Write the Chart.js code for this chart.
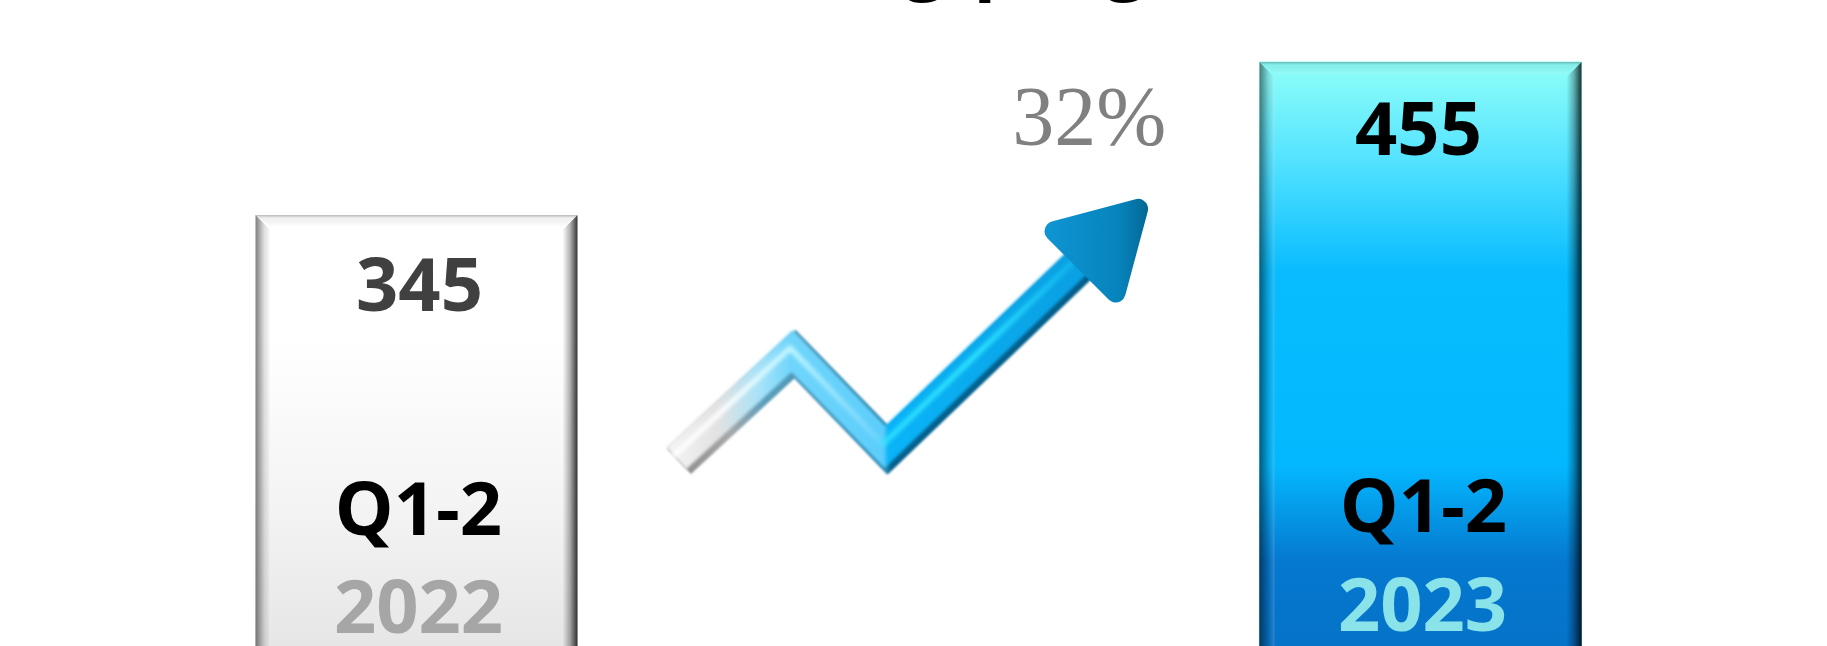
<!DOCTYPE html>
<html>
<head>
<meta charset="utf-8">
<script src="https://cdn.jsdelivr.net/npm/chart.js@4"></script>
<style>
html, body { margin: 0; height: 646px; overflow: hidden; background: #fff; }
#grafico { position: absolute; left: 0; top: -80px; }
</style>
</head>
<body>
<canvas id="grafico" width="1827" height="775"></canvas>
<script>
const categorias = ['Q1-2 2022', '', 'Q1-2 2023']
const valores = [345, null, 455]
const periodos = ['Q1-2', '', 'Q1-2']
const anios = ['2022', '', '2023']
const crecimiento = '32%'
// the title is cut off by the top of the picture, only these descenders show
const restosTitulo = ['g', 'p', 'g']

// zigzag arrow, x in category units, y in the same units as the bars
const flechaX = [0.523, 0.754, 0.939, 1.367]
const flechaY = [168, 245, 176, 324]

const datosFlecha = flechaX.map((x, i) => ({ x: x, y: flechaY[i] }))

function degradadoBarra(ctx, paradas) {
    let chart = ctx.chart
    let base = chart.scales.y.getPixelForValue(0)
    let tope = chart.scales.y.getPixelForValue(valores[ctx.dataIndex])
    let g = chart.ctx.createLinearGradient(0, tope, 0, base)
    paradas.forEach(p => g.addColorStop(p[0], p[1]))
    return g
}

function degradadoFlecha(ctx, colores) {
    let chart = ctx.chart
    if (!chart.chartArea) return colores[0][1]
    let esc = chart.scales.xFlecha
    let g = chart.ctx.createLinearGradient(esc.getPixelForValue(flechaX[0]), 0, esc.getPixelForValue(flechaX[3]), 0)
    colores.forEach(p => g.addColorStop(p[0], p[1]))
    return g
}

function degradadoPunta(ctx) {
    let chart = ctx.chart
    if (!chart.chartArea) return '#0583bd'
    let cx = chart.scales.xFlecha.getPixelForValue(flechaX[3])
    let g = chart.ctx.createLinearGradient(cx - 60, 0, cx + 50, 0)
    g.addColorStop(0, '#0f96d4')
    g.addColorStop(0.7, '#0683bb')
    g.addColorStop(1, '#04648f')
    return g
}

const coloresBorde = [[0, '#8c8c8c'], [0.12, '#a8a8a8'], [0.2, '#5f9fbc'], [0.49, '#2a86ad'], [0.5, '#04628f'], [1, '#035f8c']]
const coloresCuerpo = [[0, '#f2f2f2'], [0.1, '#e2e2e2'], [0.2, '#a5e2f8'], [0.27, '#70d5fb'], [0.49, '#5ccdfb'], [0.5, '#0ab4f8'], [1, '#0a9ee0']]
const coloresBrillo = [[0, '#ffffff'], [0.12, '#ffffff'], [0.27, '#c8f8ff'], [0.48, '#70d5fb'], [0.5, '#30e0ff'], [0.72, '#2fe6ff'], [1, '#0aa8ea']]

const desplazar = {
    id: 'desplazar',
    beforeDatasetDraw(chart, args) {
        let ds = chart.data.datasets[args.index]
        chart.ctx.save()
        chart.ctx.lineJoin = 'round'
        if (ds.desplazo) chart.ctx.translate(ds.desplazo[0], ds.desplazo[1])
        if (ds.suave) chart.ctx.filter = 'blur(' + ds.suave + 'px)'
    },
    afterDatasetDraw(chart) {
        chart.ctx.restore()
    }
}

const biselYTextos = {
    id: 'biselYTextos',
    afterDatasetsDraw(chart) {
        let ctx = chart.ctx
        let barras = chart.getDatasetMeta(4).data
        const b = 15
        ctx.save()
        barras.forEach((barra, i) => {
            if (valores[i] === null) return
            let izq = barra.x - barra.width / 2
            let der = barra.x + barra.width / 2
            let arriba = barra.y
            let abajo = barra.base

            let g = ctx.createLinearGradient(izq, 0, izq + b, 0)
            g.addColorStop(0, 'rgba(0,0,0,0.5)')
            g.addColorStop(0.6, 'rgba(0,0,0,0.12)')
            g.addColorStop(1, 'rgba(255,255,255,0.15)')
            ctx.fillStyle = g
            ctx.beginPath()
            ctx.moveTo(izq, arriba)
            ctx.lineTo(izq + b, arriba + b)
            ctx.lineTo(izq + b, abajo)
            ctx.lineTo(izq, abajo)
            ctx.fill()

            g = ctx.createLinearGradient(der - b, 0, der, 0)
            g.addColorStop(0, 'rgba(0,0,0,0)')
            g.addColorStop(0.5, 'rgba(0,0,0,0.3)')
            g.addColorStop(1, 'rgba(0,0,0,0.8)')
            ctx.fillStyle = g
            ctx.beginPath()
            ctx.moveTo(der, arriba)
            ctx.lineTo(der - b, arriba + b)
            ctx.lineTo(der - b, abajo)
            ctx.lineTo(der, abajo)
            ctx.fill()

            g = ctx.createLinearGradient(0, arriba, 0, arriba + 12)
            g.addColorStop(0, 'rgba(0,0,0,0.28)')
            g.addColorStop(0.25, 'rgba(0,0,0,0.06)')
            g.addColorStop(1, 'rgba(255,255,255,0.1)')
            ctx.fillStyle = g
            ctx.beginPath()
            ctx.moveTo(izq, arriba)
            ctx.lineTo(der, arriba)
            ctx.lineTo(der - b, arriba + 12)
            ctx.lineTo(izq + b, arriba + 12)
            ctx.fill()

            ctx.textAlign = 'center'
            ctx.textBaseline = 'alphabetic'
            ctx.font = 'bold 74px "Open Sans"'
            ctx.fillStyle = i === 0 ? '#404040' : '#000000'
            ctx.fillText(String(valores[i]), barra.x + (i === 0 ? 3 : -2), arriba + (i === 0 ? 96 : 93))
            ctx.fillStyle = '#000000'
            ctx.fillText(periodos[i], barra.x + (i === 0 ? 2 : 3), arriba + (i === 0 ? 320 : 470))
            ctx.fillStyle = i === 0 ? '#a6a6a6' : '#8be3ea'
            ctx.fillText(anios[i], barra.x + 2, arriba + (i === 0 ? 418 : 569))
        })

        ctx.font = '84px "Liberation Serif"'
        ctx.fillStyle = '#808080'
        ctx.fillText(crecimiento, chart.scales.xFlecha.getPixelForValue(1.34), chart.scales.y.getPixelForValue(395))

        ctx.font = 'bold 74px "Open Sans"'
        ctx.fillStyle = '#000000'
        ctx.fillText(restosTitulo[0], 925, 65)
        ctx.fillText(restosTitulo[1], 997, 65)
        ctx.fillText(restosTitulo[2], 1126, 65)
        ctx.restore()
    }
}

new Chart(document.getElementById('grafico'), {
    data: {
        labels: categorias,
        datasets: [
            {
                type: 'line',
                order: 1,
                xAxisID: 'xFlecha',
                data: datosFlecha,
                borderWidth: 5,
                borderCapStyle: 'round',
                borderColor: ctx => degradadoFlecha(ctx, coloresBrillo),
                desplazo: [-5, -6],
                suave: 2,
                pointRadius: 0,
                clip: false
            },
            {
                type: 'line',
                order: 0,
                xAxisID: 'xFlecha',
                data: datosFlecha,
                borderWidth: 0,
                borderColor: 'rgba(0,0,0,0)',
                pointStyle: 'triangle',
                pointRotation: 45,
                pointRadius: [0, 0, 0, 50],
                pointBorderWidth: 20,
                pointBackgroundColor: degradadoPunta,
                pointBorderColor: degradadoPunta,
                suave: 0.6,
                clip: false
            },
            {
                type: 'line',
                order: 2,
                xAxisID: 'xFlecha',
                data: datosFlecha,
                borderWidth: 30,
                borderColor: ctx => degradadoFlecha(ctx, coloresCuerpo),
                desplazo: [-3, -3],
                suave: 1.5,
                pointRadius: 0,
                clip: false
            },
            {
                type: 'line',
                order: 3,
                xAxisID: 'xFlecha',
                data: datosFlecha,
                borderWidth: 35,
                borderColor: ctx => degradadoFlecha(ctx, coloresBorde),
                suave: 1,
                pointRadius: 0,
                clip: false
            },
            {
                type: 'bar',
                order: 4,
                xAxisID: 'x',
                data: valores,
                grouped: false,
                barThickness: 322,
                clip: false,
                backgroundColor: ctx => {
                    if (!ctx.chart.chartArea || !valores[ctx.dataIndex]) return '#ffffff'
                    if (ctx.dataIndex === 0) {
                        return degradadoBarra(ctx, [[0, '#ffffff'], [0.26, '#ffffff'], [0.594, '#f4f4f4'], [0.9, '#e6e6e6'], [1, '#e0e0e0']])
                    }
                    return degradadoBarra(ctx, [[0, '#90fff8'], [0.148, '#56e4ff'], [0.332, '#08bcff'], [0.637, '#04b8ff'], [0.79, '#0578cf'], [1, '#0570c4']])
                }
            }
        ]
    },
    options: {
        responsive: false,
        animation: false,
        layout: { autoPadding: false, padding: { left: 165.5, right: 155.5, top: 0, bottom: 0 } },
        plugins: { legend: { display: false }, tooltip: { enabled: false } },
        scales: {
            x: { type: 'category', display: false, offset: true },
            xFlecha: { type: 'linear', display: false, min: -0.5, max: 2.5 },
            y: { display: false, min: 0, max: 557 }
        }
    },
    plugins: [desplazar, biselYTextos]
})
</script>
</body>
</html>
